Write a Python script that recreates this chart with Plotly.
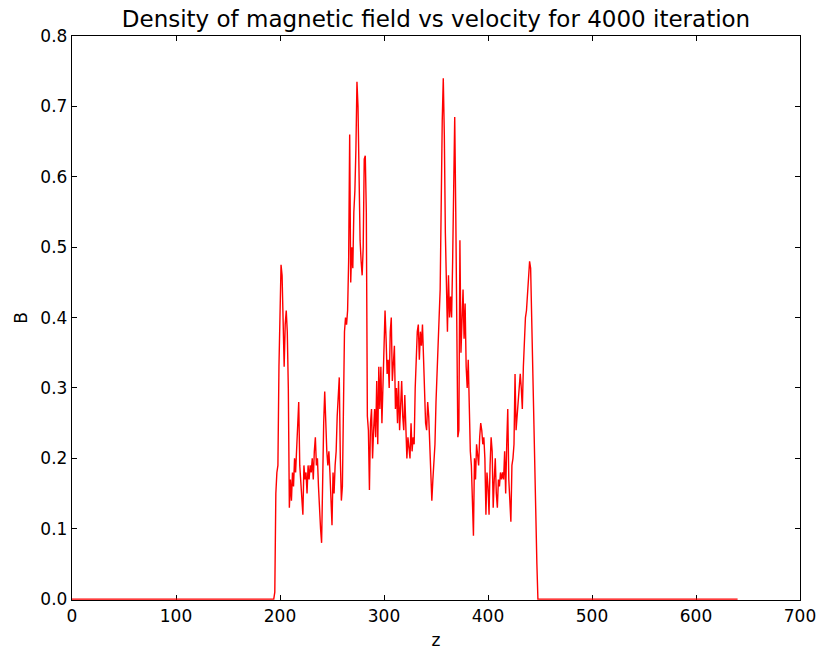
import plotly.graph_objects as go

# z positions of the baseline ends and the active region (step 1)
z_left = [0, 194]
z_right = [448, 640]
z_start = 194
B_values = [
    0.0, 0.01, 0.15, 0.18, 0.19, 0.33, 0.44, 0.475, 0.46, 0.40,   # 194-203
    0.33, 0.39, 0.41, 0.38, 0.30, 0.13, 0.17, 0.14, 0.18, 0.16,   # 204-213
    0.20, 0.18, 0.22, 0.24, 0.28, 0.19, 0.17, 0.15, 0.12, 0.19,   # 214-223
    0.17, 0.18, 0.15, 0.19, 0.17, 0.19, 0.18, 0.20, 0.17, 0.21,   # 224-233
    0.23, 0.19, 0.20, 0.16, 0.12, 0.10, 0.08, 0.20, 0.25, 0.295,  # 234-243
    0.24, 0.21, 0.19, 0.21, 0.18, 0.14, 0.105, 0.18, 0.15, 0.19,  # 244-253
    0.21, 0.26, 0.30, 0.315, 0.20, 0.14, 0.16, 0.33, 0.38, 0.40,  # 254-263
    0.39, 0.41, 0.48, 0.66, 0.45, 0.50, 0.47, 0.55, 0.58, 0.64,   # 264-273
    0.735, 0.70, 0.60, 0.51, 0.48, 0.46, 0.50, 0.625, 0.63, 0.55, # 274-283
    0.26, 0.24, 0.155, 0.25, 0.27, 0.20, 0.24, 0.27, 0.23, 0.31,  # 284-293
    0.22, 0.33, 0.27, 0.33, 0.25, 0.31, 0.36, 0.41, 0.37, 0.32,   # 294-303
    0.34, 0.30, 0.38, 0.40, 0.31, 0.33, 0.36, 0.27, 0.30, 0.25,   # 304-313
    0.31, 0.24, 0.29, 0.31, 0.26, 0.24, 0.29, 0.25, 0.20, 0.23,   # 314-323
    0.21, 0.20, 0.25, 0.21, 0.23, 0.22, 0.30, 0.35, 0.38, 0.39,   # 324-333
    0.34, 0.38, 0.36, 0.39, 0.33, 0.28, 0.25, 0.24, 0.28, 0.26,   # 334-343
    0.22, 0.18, 0.14, 0.17, 0.20, 0.22, 0.28, 0.33, 0.38, 0.40,   # 344-353
    0.44, 0.60, 0.68, 0.74, 0.66, 0.52, 0.43, 0.38, 0.46, 0.40,   # 354-363
    0.43, 0.40, 0.48, 0.56, 0.685, 0.55, 0.35, 0.23, 0.24, 0.51,  # 364-373
    0.35, 0.40, 0.44, 0.37, 0.42, 0.33, 0.30, 0.34, 0.26, 0.21,   # 374-383
    0.19, 0.14, 0.09, 0.20, 0.17, 0.22, 0.20, 0.19, 0.23, 0.25,   # 384-393
    0.24, 0.22, 0.23, 0.20, 0.12, 0.18, 0.16, 0.12, 0.19, 0.23,   # 394-403
    0.21, 0.13, 0.17, 0.20, 0.15, 0.13, 0.17, 0.16, 0.18, 0.17,   # 404-413
    0.18, 0.17, 0.21, 0.15, 0.22, 0.27, 0.17, 0.14, 0.11, 0.19,   # 414-423
    0.20, 0.22, 0.32, 0.24, 0.26, 0.28, 0.31, 0.32, 0.30, 0.27,   # 424-433
    0.33, 0.38, 0.40, 0.41, 0.44, 0.46, 0.48, 0.47, 0.40, 0.30,   # 434-443
    0.22, 0.16, 0.12, 0.05, 0.0,                                   # 444-448
]
B_left = [0.0, 0.0]
B_right = [0.0, 0.0]
x_ticks = [0, 100, 200, 300, 400, 500, 600, 700]
y_ticks = [0, 0.1, 0.2, 0.3, 0.4, 0.5, 0.6, 0.7, 0.8]
y_tick_labels = ["0.0", "0.1", "0.2", "0.3", "0.4", "0.5", "0.6", "0.7", "0.8"]

z_mid = list(range(z_start, z_start + len(B_values)))
z_all = z_left[:1] + z_mid + z_right[1:]
B_all = B_left[:1] + B_values + B_right[1:]

FONT = "DejaVu Sans"

fig = go.Figure()
fig.add_trace(go.Scatter(x=z_all, y=B_all, mode="lines",
                         line=dict(color="#ff0000", width=1.4),
                         showlegend=False, hoverinfo="skip"))

axis_common = dict(showline=True, linecolor="black", linewidth=1.2,
                   mirror="ticks", ticks="inside", ticklen=5,
                   tickcolor="black", tickwidth=1, showgrid=False,
                   zeroline=False, automargin=False, layer="below traces",
                   tickfont=dict(family=FONT, size=17, color="black"))

fig.update_layout(
    width=820, height=652,
    margin=dict(l=72, r=20, t=36, b=52, autoexpand=False),
    paper_bgcolor="white", plot_bgcolor="white",
    title=dict(text="Density of magnetic field vs velocity for 4000 iteration",
               x=(72 + 364) / 820, xanchor="center",
               y=1 - 19 / 652, yanchor="middle", yref="container",
               font=dict(family=FONT, size=23, color="black")),
    xaxis=dict(range=[0, 700], tickvals=x_ticks,
               title=dict(text="z", font=dict(family=FONT, size=17, color="black"),
                          standoff=9),
               **axis_common),
    yaxis=dict(range=[-0.0012, 0.8], tickvals=y_ticks, ticktext=y_tick_labels,
               title=dict(text="B", font=dict(family=FONT, size=17, color="black"),
                          standoff=8),
               **axis_common),
)

fig.write_html("out.html", config={"displayModeBar": False, "staticPlot": True})

# remove the default page margin so the figure sits at the window origin
with open("out.html", "r", encoding="utf-8") as f:
    html = f.read()
html = html.replace("<head>", "<head><style>html,body{margin:0;padding:0;overflow:hidden;}</style>", 1)
with open("out.html", "w", encoding="utf-8") as f:
    f.write(html)
